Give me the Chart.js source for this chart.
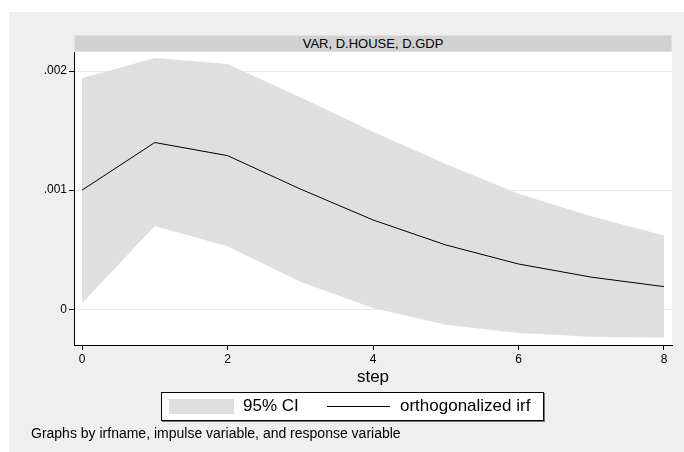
<!DOCTYPE html>
<html>
<head>
<meta charset="utf-8">
<script src="https://cdn.jsdelivr.net/npm/chart.js@4.4.1/dist/chart.umd.min.js"></script>
<style>
    html, body { margin: 0; padding: 0; background: #ffffff; }
    body { width: 684px; height: 452px; position: relative; overflow: hidden;
           font-family: "Liberation Sans", Arial, sans-serif; color: #000; }
    #panel { position: absolute; left: 9px; top: 12px; right: 0; bottom: 0; background: #efefef; }
    #plotBg { position: absolute; left: 74px; top: 52px; width: 598px; height: 293px; background: #fff; }
    #titleBar { position: absolute; left: 74px; top: 35px; width: 598px; height: 17px; box-sizing: border-box;
                background: #d1d1d1; border: 1px solid #dae2e6; font-size: 13px; line-height: 15px; text-align: center; }
    #chartWrap { position: absolute; left: 0; top: 0; width: 684px; height: 452px; }
    #legend { position: absolute; left: 161px; top: 392px; width: 383px; height: 29px; box-sizing: border-box;
              background: #fff; border: 1px solid #000; box-shadow: 1px 1px 0 #777; font-size: 17px; }
    #legend .sw { position: absolute; left: 7px; top: 6px; width: 65px; height: 15px; }
    #legend .ln { position: absolute; left: 165px; top: 13px; width: 63px; height: 0; border-top: 1px solid #000; }
    #legend .tx { position: absolute; top: 3px; line-height: 20px; white-space: nowrap; }
    #note { position: absolute; left: 31px; top: 425px; font-size: 14px; line-height: 16px; white-space: nowrap; }
</style>
</head>
<body>
<div id="panel"></div>
<div id="plotBg"></div>
<div id="titleBar">VAR, D.HOUSE, D.GDP</div>
<div id="chartWrap"><canvas id="irfChart" width="684" height="452"></canvas></div>
<div id="legend"></div>
<div id="note">Graphs by irfname, impulse variable, and response variable</div>

<script>
/* ==========================================================================
DATA: impulse response
========================================================================== */
const steps = [0, 1, 2, 3, 4, 5, 6, 7, 8];
const irfValues = [0.00100, 0.00140, 0.00129, 0.00101, 0.00075, 0.00054, 0.00038, 0.00027, 0.00019];
const ciLower = [0.00005, 0.00070, 0.00053, 0.00023, 0.00001, -0.00013, -0.00020, -0.00023, -0.00024];
const ciUpper = [0.00194, 0.00211, 0.00206, 0.00178, 0.00149, 0.00122, 0.00097, 0.00078, 0.00062];
const xTicks = [0, 2, 4, 6, 8];
const yTicks = [0, 0.001, 0.002];
const ciLabel = "95% CI";
const irfLabel = "orthogonalized irf";

const FONT = "'Liberation Sans', Arial, sans-serif";
const bandColor = "#dfdfdf";

const toPoints = (ys) => steps.map((s, i) => ({ x: s, y: ys[i] }));

// format like Stata: .001 instead of 0.001
const stataNum = (v) => {
    if (Math.abs(v) < 1e-12) return "0";
    return String(+v.toFixed(4)).replace(/^0\./, ".").replace(/^-0\./, "-.");
};

/* ==========================================================================
CHART
========================================================================== */
const ctx = document.getElementById("irfChart").getContext("2d");

const irfChart = new Chart(ctx, {
    type: "line",
    data: {
        datasets: [
            {
                label: ciLabel + " lower",
                data: toPoints(ciLower),
                borderWidth: 0,
                pointRadius: 0,
                fill: false,
                order: 2,
            },
            {
                label: ciLabel,
                data: toPoints(ciUpper),
                borderWidth: 0,
                pointRadius: 0,
                backgroundColor: bandColor,
                fill: 0,
                order: 1,
            },
            {
                label: irfLabel,
                data: toPoints(irfValues),
                borderColor: "#000",
                borderWidth: 1,
                pointRadius: 0,
                tension: 0,
                fill: false,
                order: 0,
            },
        ],
    },
    options: {
        responsive: false,
        animation: false,
        layout: { padding: { top: 52, right: 12, bottom: 64, left: 0 } },
        plugins: {
            legend: { display: false },
            tooltip: { enabled: false },
        },
        scales: {
            x: {
                type: "linear",
                min: -0.11,
                max: 8.11,
                afterBuildTicks: (scale) => { scale.ticks = xTicks.map((v) => ({ value: v })); },
                afterFit: (scale) => { scale.height = 43; },
                grid: { drawOnChartArea: false, drawTicks: true, tickLength: 5, tickColor: "#000" },
                border: { color: "#000", width: 1 },
                ticks: { padding: 2, color: "#000", font: { family: FONT, size: 12 }, maxRotation: 0 },
                title: { display: true, text: "step", color: "#000", padding: 0, font: { family: FONT, size: 17 } },
            },
            y: {
                min: -0.0003,
                max: 0.00216,
                afterBuildTicks: (scale) => { scale.ticks = yTicks.map((v) => ({ value: v })); },
                afterFit: (scale) => { scale.width = 74; },
                grid: { color: "#e8e8e8", lineWidth: 1, tickLength: 5, tickColor: "#000" },
                border: { color: "#000", width: 1 },
                ticks: {
                    padding: 2,
                    color: "#000",
                    font: { family: FONT, size: 12 },
                    callback: (v) => stataNum(v),
                },
            },
        },
    },
});

// legend built from the datasets
const legendEl = document.getElementById("legend");
const band = irfChart.data.datasets[1];
const line = irfChart.data.datasets[2];
legendEl.innerHTML = `
<span class="sw" style="background:${band.backgroundColor}"></span>
<span class="tx" style="left:81px">${band.label}</span>
<span class="ln" style="border-top-color:${line.borderColor}"></span>
<span class="tx" style="left:238px">${line.label}</span>
`;
</script>
</body>
</html>
